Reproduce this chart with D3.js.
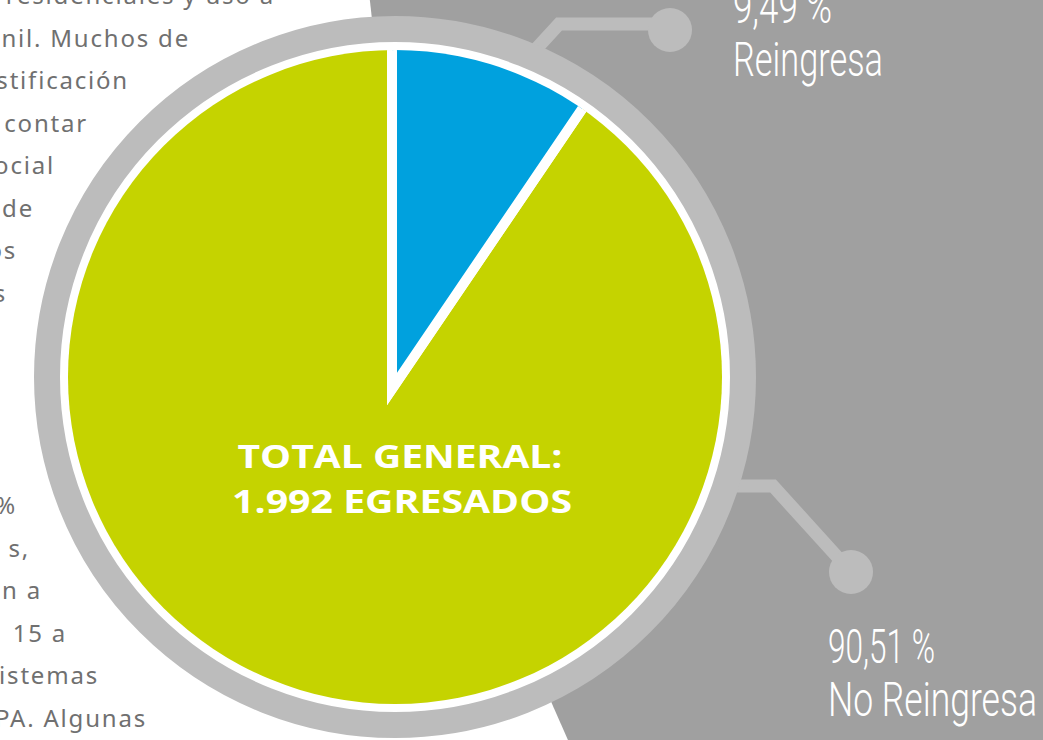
<!DOCTYPE html>
<html>
<head>
<meta charset="utf-8">
<script src="https://cdn.jsdelivr.net/npm/d3@7"></script>
<style>
  html, body { margin: 0; padding: 0; background: #fff; overflow: hidden; }
</style>
</head>
<body>
<div id="chart"></div>
<script>
/*
*    egresados - reingreso
*/

// datos
const categories = ["Reingresa", "No Reingresa"];
const percentages = [9.49, 90.51];
const percentLabels = ["9,49 %", "90,51 %"];
const totalLines = ["TOTAL GENERAL:", "1.992 EGRESADOS"];
const sliceColors = ["#00a1de", "#c5d300"];

// texto de fondo (lo que queda visible junto al gráfico)
const bodyLines = [
  "residenciales y uso a",
  "nil. Muchos de",
  "stificación",
  "contar",
  "ocial",
  "de",
  "os",
  "s",
  "", "", "", "",
  "%",
  "s,",
  "n  a",
  "15 a",
  "istemas",
  "PA. Algunas"
];
const bodyRight = [273, 188, 127, 86, 53, 32, 15, 5, 0, 0, 0, 0, 15, 28, 40, 65, 97, 145];

doughnut("#chart");

function doughnut(container) {

  const width = 1043;
  const height = 740;

  const cx = 395, cy = 377;      // círculo exterior
  const pcx = 392, pcy = 389;    // vértice de las porciones
  const radius = 327;

  d3.select(container).html("");

  const svg = d3.select(container)
    .append("svg")
    .attr("width", width)
    .attr("height", height);

  // texto de fondo
  svg.append("g")
    .selectAll("text")
    .data(bodyLines)
    .enter()
    .append("text")
    .attr("x", (d, i) => bodyRight[i] + 2)
    .attr("y", (d, i) => 4 + i * 42.5)
    .attr("text-anchor", "end")
    .style("font-family", "'Noto Sans', sans-serif")
    .style("font-size", "24px")
    .style("letter-spacing", "1.8px")
    .style("fill", "#707070")
    .text(d => d);

  // fondo gris a la derecha
  svg.append("circle")
    .attr("cx", 2736)
    .attr("cy", -237)
    .attr("r", 2378)
    .attr("fill", "#a0a0a0");

  // conectores
  const connectors = [
    { pts: [[515, 72], [559, 24], [662, 24]], dot: [670, 30] },
    { pts: [[735, 486], [773, 486], [851, 572]], dot: [851, 572] }
  ];

  const line = d3.line();

  svg.append("g")
    .selectAll("path")
    .data(connectors)
    .enter()
    .append("path")
    .attr("d", d => line(d.pts))
    .attr("fill", "none")
    .attr("stroke", "#bcbcbc")
    .attr("stroke-width", 13);

  svg.append("g")
    .selectAll("circle")
    .data(connectors)
    .enter()
    .append("circle")
    .attr("cx", d => d.dot[0])
    .attr("cy", d => d.dot[1])
    .attr("r", 22)
    .attr("fill", "#bcbcbc");

  // anillo
  svg.append("circle")
    .attr("cx", cx)
    .attr("cy", cy)
    .attr("r", 348)
    .attr("fill", "#fff")
    .attr("stroke", "#bcbcbc")
    .attr("stroke-width", 26);

  // clip del pie
  svg.append("clipPath")
    .attr("id", "pie-clip")
    .append("circle")
    .attr("cx", cx)
    .attr("cy", cy)
    .attr("r", radius);

  const pie = d3.pie()
    .sort(null)
    .value(d => d);

  const arc = d3.arc()
    .innerRadius(0)
    .outerRadius(radius + 40);

  const g = svg.append("g")
    .attr("clip-path", "url(#pie-clip)")
    .append("g")
    .attr("transform", `translate(${pcx}, ${pcy})`);

  const arcs = pie(percentages);

  // verde primero, azul encima
  g.selectAll("path")
    .data([arcs[1], arcs[0]])
    .enter()
    .append("path")
    .attr("d", arc)
    .attr("fill", d => sliceColors[d.index])
    .attr("stroke", "#fff")
    .attr("stroke-width", 10)
    .attr("stroke-linejoin", "miter")
    .attr("stroke-miterlimit", 10);

  // total
  svg.append("g")
    .selectAll("text")
    .data(totalLines)
    .enter()
    .append("text")
    .attr("x", (d, i) => [400, 402][i])
    .attr("y", (d, i) => 468 + i * 45)
    .attr("text-anchor", "middle")
    .attr("textLength", (d, i) => [325, 340][i])
    .attr("lengthAdjust", "spacingAndGlyphs")
    .style("font-family", "'Open Sans', sans-serif")
    .style("font-weight", "700")
    .style("font-size", "32px")
    .style("fill", "#fff")
    .text(d => d);

  // etiquetas
  const labelPos = [
    { x: 733, y: 23, w: [99, 150] },
    { x: 828, y: 663, w: [107, 209] }
  ];

  const labels = svg.append("g")
    .selectAll("g")
    .data(categories)
    .enter()
    .append("g");

  labels.append("text")
    .attr("x", (d, i) => labelPos[i].x)
    .attr("y", (d, i) => labelPos[i].y)
    .attr("textLength", (d, i) => labelPos[i].w[0])
    .attr("lengthAdjust", "spacingAndGlyphs")
    .style("font-family", "Roboto, sans-serif")
    .style("font-weight", "300")
    .style("font-size", "48px")
    .style("fill", "#fff")
    .text((d, i) => percentLabels[i]);

  labels.append("text")
    .attr("x", (d, i) => labelPos[i].x)
    .attr("y", (d, i) => labelPos[i].y + 53)
    .attr("textLength", (d, i) => labelPos[i].w[1])
    .attr("lengthAdjust", "spacingAndGlyphs")
    .style("font-family", "Roboto, sans-serif")
    .style("font-weight", "300")
    .style("font-size", "48px")
    .style("fill", "#fff")
    .text(d => d);
}
</script>
</body>
</html>
